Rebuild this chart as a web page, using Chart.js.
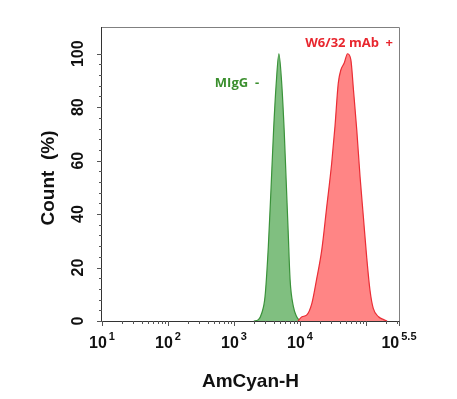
<!DOCTYPE html>
<html>
<head>
<meta charset="utf-8">
<script src="https://cdn.jsdelivr.net/npm/chart.js@4/dist/chart.umd.min.js"></script>
<style>
  body { margin: 0; background: #fff; }
  #wrap { width: 457px; height: 399px; }
</style>
</head>
<body>
<div id="wrap"><canvas id="myChart" width="457" height="399"></canvas></div>
<script>
// log10 of AmCyan-H intensity, and count (%)
var greenLog   = [3.30, 3.37, 3.42, 3.47, 3.52, 3.56, 3.60, 3.64, 3.68, 3.72, 3.76, 3.79, 3.82, 3.85, 3.90, 3.95, 4.00];
var greenCount = [0, 0.5, 2.9, 9.1, 27.8, 49, 71.5, 89, 100, 90, 71.5, 52.8, 34, 15.4, 5.4, 1.6, 0];

var redLog   = [3.97, 4.03, 4.10, 4.18, 4.25, 4.33, 4.40, 4.48, 4.53, 4.58, 4.62, 4.67, 4.72, 4.77, 4.81, 4.86, 4.91, 4.96, 5.01, 5.06, 5.11, 5.19, 5.26, 5.32];
var redCount = [0, 1.6, 2.2, 6.6, 15.4, 26.6, 41.6, 59, 72.8, 89, 94, 96.5, 100, 97.8, 86.5, 71.5, 54, 39, 24, 11.6, 4.7, 1.6, 0.6, 0];

var xTickExp = [1, 2, 3, 4, 5.5];
var yTicks = [0, 20, 40, 60, 80, 100];

function toPoints(logs, counts) {
  return logs.map(function (e, i) { return { x: Math.pow(10, e), y: counts[i] }; });
}

// axes, ticks, labels drawn by hand (superscripts + rotated y labels)
var axesPlugin = {
  id: 'axesPlugin',
  afterDatasetsDraw: function (chart) {
    var ctx = chart.ctx, a = chart.chartArea;
    var xs = chart.scales.x, ys = chart.scales.y;
    ctx.save();

    // frame
    ctx.lineWidth = 1;
    ctx.strokeStyle = '#808080';
    ctx.beginPath();
    ctx.moveTo(a.left, a.top + 0.5); ctx.lineTo(a.right + 0.5, a.top + 0.5); ctx.lineTo(a.right + 0.5, a.bottom);
    ctx.stroke();
    ctx.strokeStyle = '#333';
    ctx.beginPath();
    ctx.moveTo(a.left - 0.5, a.top); ctx.lineTo(a.left - 0.5, a.bottom + 0.5); ctx.lineTo(a.right + 0.5, a.bottom + 0.5);
    ctx.stroke();

    // x ticks
    ctx.strokeStyle = '#555';
    ctx.beginPath();
    for (var d = 1; d <= 5; d++) {
      for (var k = 1; k <= 9; k++) {
        var v = k * Math.pow(10, d);
        if (v > xs.max) break;
        var px = Math.round(xs.getPixelForValue(v)) + 0.5;
        ctx.moveTo(px, a.bottom);
        ctx.lineTo(px, a.bottom + (k === 1 ? 5 : 3));
      }
    }
    var pe = Math.round(xs.getPixelForValue(xs.max)) + 0.5;
    ctx.moveTo(pe, a.bottom); ctx.lineTo(pe, a.bottom + 5);
    // y ticks
    for (var t = 0; t <= 100; t += 4) {
      var py = Math.round(ys.getPixelForValue(t)) + 0.5;
      ctx.moveTo(a.left, py);
      ctx.lineTo(a.left - (t % 20 === 0 ? 5 : 3), py);
    }
    ctx.stroke();

    // x tick labels 10^n
    ctx.fillStyle = '#111';
    ctx.textBaseline = 'alphabetic';
    xTickExp.forEach(function (e) {
      var cx = xs.getPixelForValue(Math.pow(10, e));
      ctx.font = 'bold 16px "Liberation Sans", Arial, sans-serif';
      var wBase = ctx.measureText('10').width;
      ctx.font = 'bold 11px "Liberation Sans", Arial, sans-serif';
      var sup = String(e);
      var wSup = ctx.measureText(sup).width;
      var left = cx - (wBase + 2 + wSup) / 2;
      ctx.textAlign = 'left';
      ctx.font = 'bold 16px "Liberation Sans", Arial, sans-serif';
      ctx.fillText('10', left, a.bottom + 27);
      ctx.font = 'bold 11px "Liberation Sans", Arial, sans-serif';
      ctx.fillText(sup, left + wBase + 2, a.bottom + 19);
    });

    // y tick labels, rotated
    ctx.font = 'bold 16px "Liberation Sans", Arial, sans-serif';
    ctx.textAlign = 'center';
    ctx.textBaseline = 'middle';
    yTicks.forEach(function (t) {
      ctx.save();
      ctx.translate(a.left - 23, ys.getPixelForValue(t));
      ctx.rotate(-Math.PI / 2);
      ctx.fillText(String(t), 0, 0);
      ctx.restore();
    });

    // axis titles
    ctx.font = 'bold 19px "Liberation Sans", Arial, sans-serif';
    ctx.textBaseline = 'alphabetic';
    ctx.fillText('AmCyan-H', (a.left + a.right) / 2, a.bottom + 66);
    ctx.save();
    ctx.translate(a.left - 53, (a.top + a.bottom) / 2 + 4);
    ctx.rotate(-Math.PI / 2);
    ctx.textBaseline = 'middle';
    ctx.fillText('Count  (%)', 0, 0);
    ctx.restore();

    // series labels
    ctx.font = 'bold 13px "Open Sans", sans-serif';
    ctx.textAlign = 'left';
    ctx.textBaseline = 'alphabetic';
    ctx.fillStyle = '#3b8f2e';
    ctx.fillText('MIgG  -', xs.getPixelForValue(Math.pow(10, 2.71)), ys.getPixelForValue(87.6));
    ctx.fillStyle = '#e8262e';
    ctx.fillText('W6/32 mAb  +', xs.getPixelForValue(Math.pow(10, 4.08)), ys.getPixelForValue(102.6));

    ctx.restore();
  }
};

var ctx = document.getElementById('myChart').getContext('2d');
var myChart = new Chart(ctx, {
  type: 'line',
  data: {
    datasets: [{
      label: 'W6/32 mAb +',
      data: toPoints(redLog, redCount),
      borderColor: '#ea2d35',
      backgroundColor: '#ff8585',
      borderWidth: 1.2,
      fill: 'origin',
      pointRadius: 0,
      cubicInterpolationMode: 'monotone'
    }, {
      label: 'MIgG -',
      data: toPoints(greenLog, greenCount),
      borderColor: '#3a923a',
      backgroundColor: '#80bf80',
      borderWidth: 1.2,
      fill: 'origin',
      pointRadius: 0,
      cubicInterpolationMode: 'monotone'
    }]
  },
  options: {
    responsive: false,
    animation: false,
    layout: { padding: { left: 102, right: 58, top: 27, bottom: 78 } },
    plugins: { legend: { display: false }, tooltip: { enabled: false } },
    scales: {
      x: { type: 'logarithmic', min: 10, max: Math.pow(10, 5.5), display: false },
      y: { type: 'linear', min: 0, max: 110, display: false }
    }
  },
  plugins: [axesPlugin]
});
</script>
</body>
</html>
